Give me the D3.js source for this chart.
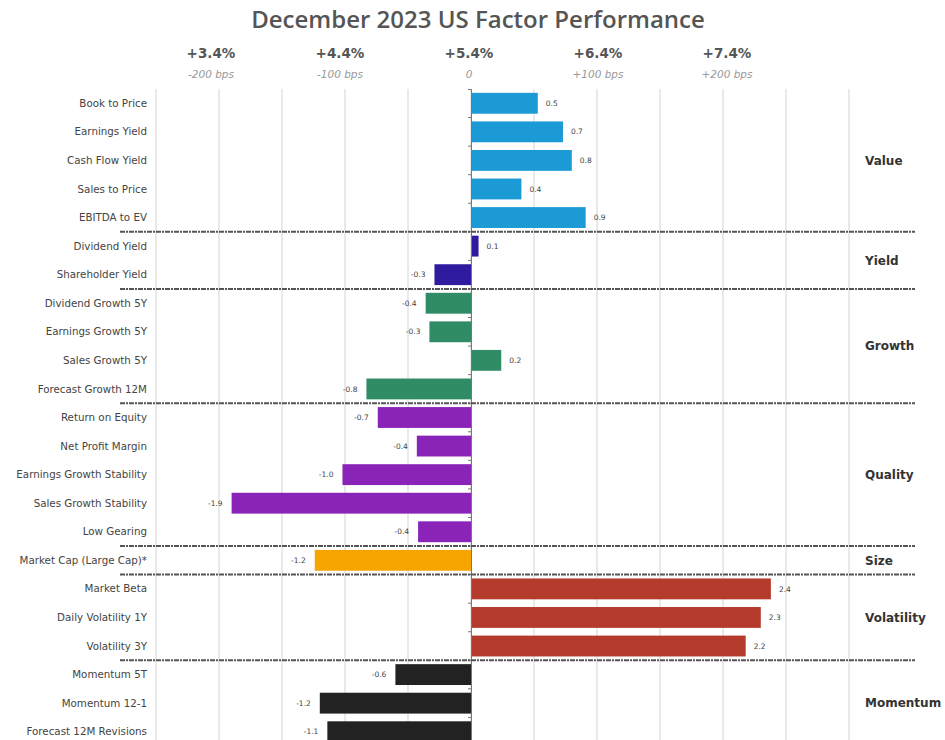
<!DOCTYPE html>
<html>
<head>
<meta charset="utf-8">
<script src="https://cdn.jsdelivr.net/npm/d3@7"></script>
<style>
  body { margin: 0; background: #fff; }
  .factor { font-family: "DejaVu Sans", sans-serif; font-size: 10.3px; fill: #444; }
  .val { font-family: "DejaVu Sans", sans-serif; font-size: 7.5px; fill: #444; }
  .grp { font-family: "DejaVu Sans", sans-serif; font-size: 12px; font-weight: bold; fill: #333; }
</style>
</head>
<body>
<div class="app"></div>
<script>
// Chart data.
var factors = ["Book to Price", "Earnings Yield", "Cash Flow Yield", "Sales to Price", "EBITDA to EV",
    "Dividend Yield", "Shareholder Yield",
    "Dividend Growth 5Y", "Earnings Growth 5Y", "Sales Growth 5Y", "Forecast Growth 12M",
    "Return on Equity", "Net Profit Margin", "Earnings Growth Stability", "Sales Growth Stability", "Low Gearing",
    "Market Cap (Large Cap)*",
    "Market Beta", "Daily Volatility 1Y", "Volatility 3Y",
    "Momentum 5T", "Momentum 12-1", "Forecast 12M Revisions"];

var values = [0.53, 0.73, 0.8, 0.4, 0.91,
    0.06, -0.29,
    -0.36, -0.33, 0.24, -0.83,
    -0.74, -0.43, -1.02, -1.9, -0.42,
    -1.24,
    2.38, 2.3, 2.18,
    -0.6, -1.2, -1.14];

var factorGroup = ["Value", "Value", "Value", "Value", "Value",
    "Yield", "Yield",
    "Growth", "Growth", "Growth", "Growth",
    "Quality", "Quality", "Quality", "Quality", "Quality",
    "Size",
    "Volatility", "Volatility", "Volatility",
    "Momentum", "Momentum", "Momentum"];

var groupNames = ["Value", "Yield", "Growth", "Quality", "Size", "Volatility", "Momentum"];
var groupColors = ["#1b9ad6", "#2f1ba0", "#2f8c64", "#8a24b8", "#f5a400", "#b43b2b", "#222222"];

var tickValues = [-2, -1, 0, 1, 2];
var tickPct = ["+3.4%", "+4.4%", "+5.4%", "+6.4%", "+7.4%"];
var tickBps = ["-200 bps", "-100 bps", "0", "+100 bps", "+200 bps"];
var gridValues = [-2.5, -2, -1.5, -1, -0.5, 0, 0.5, 1, 1.5, 2, 2.5, 3];

// layout
var W = 945, H = 740,
    plotTop = 89, plotBottom = 746,
    sepLeft = 120, sepRight = 915;

var svg = d3.select(".app").append("svg")
    .attr("width", W)
    .attr("height", H);

var x = d3.scaleLinear().domain([-2.5, 3]).range([156, 849]);
// heading labels sit on a slightly wider spacing than the bars
var xHead = d3.scaleLinear().domain([-2, 2]).range([211, 727]);
var y = d3.scaleBand().domain(factors).range([plotTop, plotBottom]).paddingInner(0.27).paddingOuter(0.135);
var color = d3.scaleOrdinal().domain(groupNames).range(groupColors);

// title
svg.append("text")
    .attr("x", 478).attr("y", 28)
    .attr("text-anchor", "middle")
    .style("font-family", "'Open Sans', sans-serif")
    .style("font-size", "24px")
    .style("font-weight", "600")
    .style("fill", "#555")
    .text("December 2023 US Factor Performance");

// top labels
var headLabels = svg.append("g");
headLabels.selectAll(".pct")
    .data(tickValues)
    .enter().append("text")
    .attr("class", "pct")
    .attr("x", function(d){ return xHead(d); })
    .attr("y", 58)
    .attr("text-anchor", "middle")
    .style("font-family", "'DejaVu Sans', sans-serif")
    .style("font-size", "13.5px")
    .style("font-weight", "bold")
    .style("fill", "#555")
    .text(function(d, i){ return tickPct[i]; });

headLabels.selectAll(".bps")
    .data(tickValues)
    .enter().append("text")
    .attr("class", "bps")
    .attr("x", function(d){ return xHead(d); })
    .attr("y", 78)
    .attr("text-anchor", "middle")
    .style("font-family", "'DejaVu Sans', sans-serif")
    .style("font-size", "10.5px")
    .style("font-style", "italic")
    .style("fill", "#999")
    .text(function(d, i){ return tickBps[i]; });

// grid
svg.append("g").selectAll("line")
    .data(gridValues)
    .enter().append("line")
    .attr("x1", function(d){ return x(d); })
    .attr("x2", function(d){ return x(d); })
    .attr("y1", plotTop)
    .attr("y2", H)
    .attr("stroke", "#e2e2e2")
    .attr("stroke-width", 1.5);

// bars
svg.append("g").selectAll("rect")
    .data(values)
    .enter().append("rect")
    .attr("x", function(d){ return x(Math.min(0, d)); })
    .attr("y", function(d, i){ return y(factors[i]); })
    .attr("width", function(d){ return Math.abs(x(d) - x(0)); })
    .attr("height", y.bandwidth())
    .attr("fill", function(d, i){ return color(factorGroup[i]); });

// zero axis with small ticks
var yAxis = d3.axisLeft(y).tickSize(3).tickFormat("");
svg.append("g")
    .attr("transform", "translate(" + x(0) + ",0)")
    .call(yAxis)
    .call(function(g){
        g.select(".domain").attr("stroke", "#777");
        g.selectAll(".tick line").attr("stroke", "#777")
            .attr("transform", "translate(0," + (y.step() / 2) + ")");
    });

// value labels
svg.append("g").selectAll("text")
    .data(values)
    .enter().append("text")
    .attr("class", "val")
    .attr("x", function(d){ return d >= 0 ? x(d) + 8 : x(d) - 9; })
    .attr("y", function(d, i){ return y(factors[i]) + y.bandwidth() / 2; })
    .attr("dy", "0.35em")
    .attr("text-anchor", function(d){ return d >= 0 ? "start" : "end"; })
    .text(function(d){ return d3.format(".1f")(d).replace("\u2212", "-"); });

// factor names
svg.append("g").selectAll("text")
    .data(factors)
    .enter().append("text")
    .attr("class", "factor")
    .attr("x", 147)
    .attr("y", function(d){ return y(d) + y.bandwidth() / 2; })
    .attr("dy", "0.35em")
    .attr("text-anchor", "end")
    .text(function(d){ return d; });

// group separators and names
var bounds = groupNames.map(function(g){
    var idx = factorGroup.map(function(f, i){ return f === g ? i : -1; }).filter(function(i){ return i >= 0; });
    return {name: g, first: idx[0], last: idx[idx.length - 1]};
});

svg.append("g").selectAll("line")
    .data(bounds.slice(0, -1))
    .enter().append("line")
    .attr("x1", sepLeft)
    .attr("x2", sepRight)
    .attr("y1", function(d){ return y(factors[d.last]) + y.bandwidth() + (y.step() - y.bandwidth()) / 2; })
    .attr("y2", function(d){ return y(factors[d.last]) + y.bandwidth() + (y.step() - y.bandwidth()) / 2; })
    .attr("stroke", "#555")
    .attr("stroke-width", 2)
    .attr("stroke-dasharray", "5,1,2,1");

svg.append("g").selectAll("text")
    .data(bounds)
    .enter().append("text")
    .attr("class", "grp")
    .attr("x", 865)
    .attr("y", function(d){
        return (y(factors[d.first]) + y(factors[d.last]) + y.bandwidth()) / 2;
    })
    .attr("dy", "0.35em")
    .text(function(d){ return d.name; });
</script>
</body>
</html>
